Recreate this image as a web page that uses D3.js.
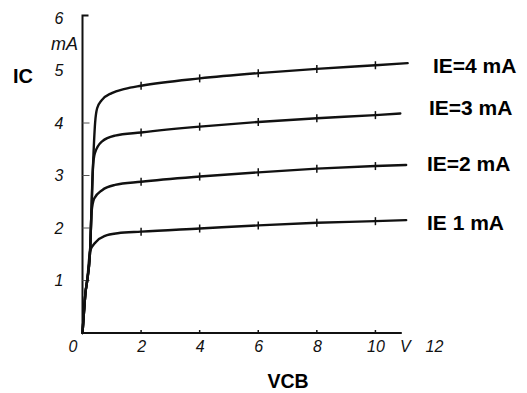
<!DOCTYPE html>
<html>
<head>
<meta charset="utf-8">
<script src="https://cdn.jsdelivr.net/npm/d3@7"></script>
<style>
  html, body { margin: 0; padding: 0; background: #fff; }
  svg { display: block; }
  .tick-label { font-family: "Liberation Sans", Arial, sans-serif; font-style: italic; font-size: 16px; fill: #111; }
  .title { font-family: "Liberation Sans", Arial, sans-serif; font-weight: bold; fill: #000; }
</style>
</head>
<body>
<svg id="chart" width="527" height="393"></svg>
<script>
// Collector characteristics of a common-base transistor: IC vs VCB for several emitter currents.
const seriesNames = ["IE 1 mA", "IE=2 mA", "IE=3 mA", "IE=4 mA"];

const vcbIE1 = [0, 0.05, 0.1, 0.16, 0.26, 0.45, 0.77, 1.2, 2, 4, 6, 8, 10, 11.05];
const icIE1  = [0, 0.4, 0.76, 1.0, 1.56, 1.73, 1.85, 1.9, 1.93, 1.99, 2.05, 2.1, 2.13, 2.15];

const vcbIE2 = [0, 0.05, 0.1, 0.16, 0.26, 0.31, 0.4, 0.67, 1.11, 2, 4, 6, 8, 10, 11.05];
const icIE2  = [0, 0.4, 0.76, 1.0, 1.58, 2.3, 2.56, 2.72, 2.82, 2.88, 2.98, 3.06, 3.13, 3.18, 3.2];

const vcbIE3 = [0, 0.05, 0.1, 0.16, 0.26, 0.31, 0.35, 0.42, 0.67, 1.11, 2, 4, 6, 8, 10, 10.85];
const icIE3  = [0, 0.4, 0.76, 1.0, 1.58, 2.4, 3.1, 3.42, 3.65, 3.76, 3.82, 3.93, 4.02, 4.09, 4.15, 4.18];

const vcbIE4 = [0, 0.05, 0.1, 0.16, 0.26, 0.31, 0.36, 0.43, 0.5, 0.65, 1.0, 1.45, 2, 4, 6, 8, 10, 11.1];
const icIE4  = [0, 0.4, 0.76, 1.0, 1.58, 2.4, 3.2, 4.0, 4.28, 4.43, 4.57, 4.65, 4.71, 4.85, 4.95, 5.03, 5.1, 5.14];

const xTickValues = [0, 2, 4, 6, 8, 10, 11, 12];
const xTickLabels = ["0", "2", "4", "6", "8", "10", "V", "12"];
const yTickValues = [1, 2, 3, 4, 5, 6];
const yTickLabels = ["1", "2", "3", "4", "5", "6"];
const markedVcb = [2, 4, 6, 8, 10];

const svg = d3.select("#chart");
const x = d3.scaleLinear().domain([0, 12]).range([82.5, 434]);
const y = d3.scaleLinear().domain([0, 6]).range([333, 18]);

// axis frame: short cap at top of the IC axis, then down and along VCB
svg.append("path")
  .attr("d", `M${x(0) + 6},${y(6.05)} H${x(0)} V${y(0)} H${x(10.9)}`)
  .attr("fill", "none").attr("stroke", "#111").attr("stroke-width", 2);

// bottom axis labels
const xAxis = d3.axisBottom(x).tickValues(xTickValues)
  .tickFormat((d, i) => xTickLabels[i]).tickSize(0).tickPadding(8);
const gx = svg.append("g").attr("transform", `translate(0,${y(0)})`).call(xAxis);
gx.select(".domain").remove();
gx.selectAll("text").attr("class", "tick-label").attr("fill", null)
  .attr("dx", d => d === 0 ? -10 : 0);
// small marks along the VCB axis
svg.append("g").selectAll("line").data(markedVcb).join("line")
  .attr("x1", d => x(d)).attr("x2", d => x(d))
  .attr("y1", y(0)).attr("y2", y(0) - 3)
  .attr("stroke", "#111").attr("stroke-width", 1.5);

// left axis labels
const yAxis = d3.axisLeft(y).tickValues(yTickValues)
  .tickFormat((d, i) => yTickLabels[i]).tickSize(0).tickPadding(19);
const gy = svg.append("g").attr("transform", `translate(${x(0)},0)`).call(yAxis);
gy.select(".domain").remove();
gy.selectAll("text").attr("class", "tick-label").attr("fill", null);
// short marks just inside the IC axis
svg.append("g").selectAll("line").data(yTickValues.slice(0, 4)).join("line")
  .attr("x1", x(0)).attr("x2", x(0) + 7)
  .attr("y1", d => y(d)).attr("y2", d => y(d))
  .attr("stroke", "#555").attr("stroke-width", 1);

svg.append("text").attr("class", "tick-label")
  .attr("x", 78).attr("y", 50).attr("text-anchor", "end")
  .style("font-size", "18px").text("mA");

// characteristic curves
const series = [
  { name: seriesNames[0], v: vcbIE1, i: icIE1 },
  { name: seriesNames[1], v: vcbIE2, i: icIE2 },
  { name: seriesNames[2], v: vcbIE3, i: icIE3 },
  { name: seriesNames[3], v: vcbIE4, i: icIE4 }
];
const line = d3.line().x(d => x(d[0])).y(d => y(d[1])).curve(d3.curveMonotoneX);

series.forEach(s => {
  const pts = s.v.map((v, k) => [v, s.i[k]]);
  svg.append("path").datum(pts).attr("d", line)
    .attr("fill", "none").attr("stroke", "#111")
    .attr("stroke-width", 2.4).attr("stroke-linejoin", "round").attr("stroke-linecap", "round");
  // cross marks at the even VCB readings
  const marks = pts.filter(p => markedVcb.includes(p[0]));
  svg.append("g").selectAll("line").data(marks).join("line")
    .attr("x1", p => x(p[0])).attr("x2", p => x(p[0]))
    .attr("y1", p => y(p[1]) - 4).attr("y2", p => y(p[1]) + 4)
    .attr("stroke", "#111").attr("stroke-width", 1.5);
});

// series labels at the right end of each curve
const labelX = [427, 427, 429, 433];
const labelY = [230, 171, 115, 73];
svg.append("g").selectAll("text").data(series).join("text")
  .attr("class", "title").attr("font-size", 21)
  .attr("x", (d, k) => labelX[k]).attr("y", (d, k) => labelY[k])
  .text(d => d.name);

// axis titles
svg.append("text").attr("class", "title").attr("font-size", 20)
  .attr("x", 13).attr("y", 83).text("IC");
svg.append("text").attr("class", "title").attr("font-size", 19.5)
  .attr("x", 288).attr("y", 388).attr("text-anchor", "middle").text("VCB");
</script>
</body>
</html>
